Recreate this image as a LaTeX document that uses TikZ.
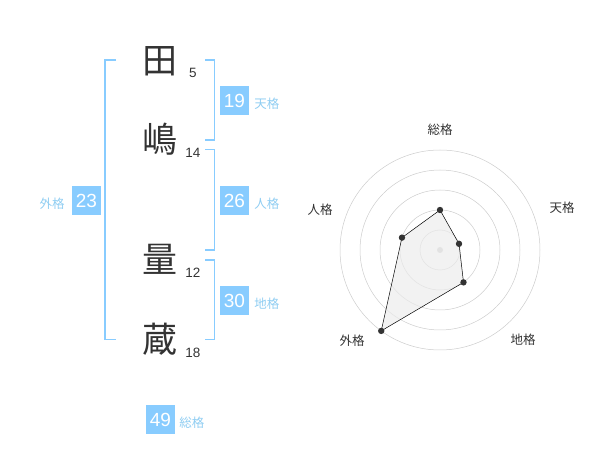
\documentclass[tikz,border=0pt]{standalone}
\usepackage{fontspec}
\setmainfont{Liberation Sans}
\newfontfamily\jp{Noto Sans CJK JP}
\usetikzlibrary{positioning}
\definecolor{kaku}{HTML}{88CCFF}
\definecolor{kakutext}{HTML}{8FCDF2}
\definecolor{moji}{HTML}{333333}
\tikzset{
  kanji/.style={font=\jp\fontsize{35}{35}\selectfont, text=moji, inner sep=0pt},
  kakusu/.style={font=\fontsize{13.5}{14}\selectfont, text=moji, inner sep=0pt},
  kakubox/.style={fill=kaku, text=white, minimum size=29pt, inner sep=0pt, font=\fontsize{19}{19}\selectfont},
  kakuname/.style={font=\jp\fontsize{12.5}{13}\selectfont, text=kakutext, inner sep=0pt, yshift=-3pt},
  bracket/.style={draw=kaku, line width=1.6pt},
  radarname/.style={font=\jp\fontsize{12.5}{13}\selectfont, text=moji, inner sep=0pt}
}
\begin{document}
\begin{tikzpicture}[x=1pt, y=-1pt]
\useasboundingbox (0,0) rectangle (600,470);
% name
\node[kanji] (ta) at (160,61) {田};
\node[kanji] (shima) at (160,139) {嶋};
\node[kanji] (ryo) at (160,259) {量};
\node[kanji] (zo) at (160,339) {蔵};
\node[kakusu] (n1) at (193,73) {5};
\node[kakusu] (n2) at (193,153) {14};
\node[kakusu] (n3) at (193,273) {12};
\node[kakusu] (n4) at (193,353) {18};
% brackets
\draw[bracket] (116,60) -- (105,60) -- (105,339.5) -- (116,339.5);
\draw[bracket] (205,60) -- (214.5,60) -- (214.5,140) -- (205,140);
\draw[bracket] (205,149.5) -- (214.5,149.5) -- (214.5,250) -- (205,250);
\draw[bracket] (205,260) -- (214.5,260) -- (214.5,339.5) -- (205,339.5);
% kaku
\node[kakubox] (ten) at (234.5,100.5) {19};
\node[kakuname, right=5pt of ten] (tenname) {天格};
\node[kakubox] (jin) at (234.5,200.5) {26};
\node[kakuname, right=5pt of jin] (jinname) {人格};
\node[kakubox] (chi) at (234.5,300.5) {30};
\node[kakuname, right=5pt of chi] (chiname) {地格};
\node[kakubox] (gai) at (86.5,200.5) {23};
\node[kakuname, left=7pt of gai] (gainame) {外格};
\node[kakubox] (so) at (160.5,419.5) {49};
\node[kakuname, right=4pt of so] (soname) {総格};
% radar
\begin{scope}[shift={(440,250)}, x=1pt, y=1pt]
\foreach \r in {20,40,...,100}
{
    \draw[gray!40, line width=.5pt] (0,0) circle (\r);
}
\fill[gray!40] (0,0) circle (3);
\coordinate (pso) at (90:40);
\coordinate (pten) at (18:20);
\coordinate (pchi) at (-54:40);
\coordinate (pgai) at (-126:100);
\coordinate (pjin) at (162:40);
\filldraw[fill=gray!15, fill opacity=.7, draw=black, line width=.5pt] (pso) -- (pten) -- (pchi) -- (pgai) -- (pjin) -- cycle;
\foreach \p in {pso,pten,pchi,pgai,pjin}
{
    \fill[moji] (\p) circle (3.2);
}
\node[radarname] (rso) at (0,120) {総格};
\node[radarname] (rten) at (122,42) {天格};
\node[radarname] (rchi) at (83,-90) {地格};
\node[radarname] (rgai) at (-88,-91) {外格};
\node[radarname] (rjin) at (-120,40) {人格};
\end{scope}
\end{tikzpicture}
\end{document}
